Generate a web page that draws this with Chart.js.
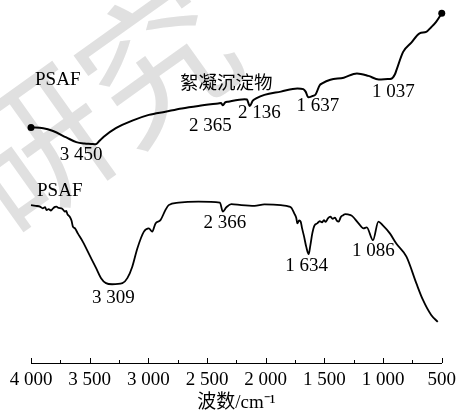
<!DOCTYPE html>
<html>
<head>
<meta charset="utf-8">
<script src="https://cdn.jsdelivr.net/npm/chart.js@4/dist/chart.umd.min.js"></script>
<style>
  html, body { margin: 0; padding: 0; background: #fff; }
  canvas { display: block; }
</style>
</head>
<body>
<canvas id="ir" width="462" height="414"></canvas>
<script>
// FTIR spectra: PSAF flocculation sediment (upper trace) and PSAF (lower trace)
// Wavenumbers in cm-1, transmittance in arbitrary offset units.
const flocWave = [4000, 3896, 3812, 3699, 3614, 3544, 3488, 3450, 3418, 3380, 3277, 3137, 2996, 2855, 2715, 2574,
  2405, 2380, 2365, 2345, 2320, 2180, 2160, 2136, 2110, 2082, 2011, 1871, 1730, 1680, 1660, 1637, 1600, 1575,
  1540, 1519, 1449, 1335, 1223, 1125, 1037, 960, 930, 900, 886, 829, 759, 689, 632, 590, 548, 500];
const flocT = [65.8, 65.6, 64.8, 63.0, 61.7, 61.3, 61.2, 61.1, 62.0, 63.2, 65.6, 67.7, 69.3, 70.2, 71.1, 71.8,
  72.5, 72.6, 72.0, 72.8, 73.0, 73.7, 73.6, 71.8, 73.3, 73.9, 74.9, 75.8, 76.7, 76.5, 75.8, 74.2, 74.6, 75.0,
  77.6, 78.1, 79.1, 79.7, 80.9, 80.2, 79.2, 79.3, 79.4, 80.6, 81.8, 86.9, 89.5, 92.1, 92.5, 93.8, 95.3, 97.7];

const psafWave = [4000, 3960, 3924, 3900, 3880, 3867, 3850, 3830, 3812, 3795, 3783, 3765, 3741, 3725, 3713,
  3700, 3690, 3671, 3655, 3643, 3625, 3601, 3559, 3502, 3445, 3403, 3361, 3309, 3221, 3179, 3137, 3094, 3038,
  2996, 2967, 2939, 2897, 2855, 2827, 2742, 2574, 2390, 2366, 2335, 2293, 2208, 2095, 2011, 1871, 1800, 1780,
  1757, 1740, 1730, 1715, 1702, 1690, 1673, 1655, 1634, 1620, 1603, 1585, 1561, 1540, 1520, 1504, 1490, 1470,
  1449, 1430, 1410, 1395, 1378, 1360, 1340, 1322, 1300, 1265, 1209, 1167, 1139, 1086, 1040, 1004, 942, 886,
  801, 717, 660, 590, 534];
const psafT = [44.1, 43.9, 43.7, 43.2, 43.5, 42.7, 43.0, 42.6, 43.2, 43.6, 43.7, 43.3, 43.2, 42.8, 42.3,
  42.5, 41.6, 40.9, 39.8, 38.1, 37.6, 36.2, 33.9, 30.2, 26.5, 23.7, 22.3, 22.0, 22.3, 23.7, 26.9, 32.0, 36.7,
  37.6, 36.7, 39.0, 39.9, 42.7, 44.1, 44.8, 45.1, 44.8, 42.3, 43.5, 44.4, 44.1, 43.9, 44.3, 44.1, 43.7, 43.3,
  41.8, 40.6, 39.0, 39.8, 39.5, 37.6, 35.3, 32.5, 30.4, 32.8, 36.2, 38.4, 39.0, 39.6, 39.3, 39.9, 39.4, 40.4,
  40.9, 40.3, 40.6, 39.8, 39.5, 40.8, 41.3, 41.6, 41.5, 41.1, 39.0, 37.6, 37.9, 34.3, 39.5, 38.5, 36.2, 33.3,
  29.7, 22.3, 17.6, 13.4, 11.5];

const xTicks = [4000, 3500, 3000, 2500, 2000, 1500, 1000, 500];

// Peak annotations: text, and where the text sits (wavenumber, transmittance)
const peakText = ['3 450', '2 365', '2 136', '1 637', '1 037', '3 309', '2 366', '1 634', '1 086'];
const peakTextWave = [3572, 2472, 2053, 1555, 913, 3299, 2348, 1651, 1082];
const peakTextT = [58.1, 66.2, 69.9, 71.8, 75.8, 18.2, 39.2, 27.1, 31.4];

// Trace names
const traceText = ['PSAF', '絮凝沉淀物', 'PSAF'];
const traceTextWave = [3772, 2337, 3755];
const traceTextT = [79.1, 78.6, 48.1];

const pts = (xs, ys) => xs.map((x, i) => ({ x: x, y: ys[i] }));
const fmt = v => v >= 1000 ? Math.floor(v / 1000) + ' ' + String(v % 1000).padStart(3, '0') : String(v);

const SERIF = "'Liberation Serif', 'Times New Roman', 'Noto Sans CJK SC', serif";

// faint background watermark
const watermark = {
  id: 'watermark',
  beforeDraw(chart) {
    const ctx = chart.ctx;
    ctx.save();
    ctx.fillStyle = '#e0e0e0';
    ctx.font = "150px 'Noto Sans CJK SC'";
    ctx.textAlign = 'center';
    ctx.textBaseline = 'middle';
    ctx.translate(95, 105);
    ctx.rotate(-0.62);
    ctx.fillText('研究', 0, 0);
    ctx.restore();
  }
};

// small inward-pointing major/minor tick marks on the wavenumber axis
const axisTicks = {
  id: 'axisTicks',
  afterDraw(chart) {
    const sx = chart.scales.x;
    const bottom = chart.chartArea.bottom;
    const ctx = chart.ctx;
    ctx.save();
    ctx.strokeStyle = '#000';
    ctx.lineWidth = 1;
    for (let w = 500; w <= 4000; w += 250) {
      const px = Math.round(sx.getPixelForValue(w)) + 0.5;
      const len = w % 500 === 0 ? 5 : 3;
      ctx.beginPath();
      ctx.moveTo(px, bottom);
      ctx.lineTo(px, bottom - len);
      ctx.stroke();
    }
    ctx.restore();
  }
};

const labels = {
  id: 'labels',
  afterDatasetsDraw(chart) {
    const sx = chart.scales.x, sy = chart.scales.y, ctx = chart.ctx;
    ctx.save();
    ctx.fillStyle = '#000';
    ctx.textAlign = 'center';
    ctx.textBaseline = 'middle';
    ctx.font = '19px ' + SERIF;
    peakText.forEach((t, i) => {
      ctx.fillText(t, sx.getPixelForValue(peakTextWave[i]), sy.getPixelForValue(peakTextT[i]));
    });
    traceText.forEach((t, i) => {
      ctx.font = (/[\u4e00-\u9fff]/.test(t) ? "18.5px 'Noto Sans CJK SC'" : '19px ' + SERIF);
      ctx.fillText(t, sx.getPixelForValue(traceTextWave[i]), sy.getPixelForValue(traceTextT[i]));
    });
    ctx.restore();
  }
};

const flocData = pts(flocWave, flocT);

new Chart(document.getElementById('ir'), {
  type: 'line',
  data: {
    datasets: [
      {
        label: 'PSAF 絮凝沉淀物',
        data: flocData,
        borderColor: '#000',
        borderWidth: 2,
        clip: false,
        cubicInterpolationMode: 'monotone',
        pointRadius: c => (c.dataIndex === 0 || c.dataIndex === flocData.length - 1) ? 3.5 : 0,
        pointBackgroundColor: '#000',
        pointBorderColor: '#000',
        pointBorderWidth: 0
      },
      {
        label: 'PSAF',
        data: pts(psafWave, psafT),
        borderColor: '#000',
        borderWidth: 1.8,
        clip: false,
        cubicInterpolationMode: 'monotone',
        pointRadius: 0
      }
    ]
  },
  options: {
    responsive: false,
    animation: false,
    devicePixelRatio: 1,
    layout: { padding: { left: 31, right: 16, top: 5, bottom: 0 } },
    plugins: { legend: { display: false }, tooltip: { enabled: false } },
    scales: {
      x: {
        type: 'linear',
        reverse: true,
        min: 500,
        max: 4000,
        afterBuildTicks: s => { s.ticks = xTicks.map(v => ({ value: v })); },
        afterFit: s => { s.height = 51; },
        ticks: {
          color: '#000',
          font: { family: SERIF, size: 19 },
          padding: 6,
          maxRotation: 0,
          autoSkip: false,
          callback: v => fmt(v)
        },
        grid: { display: false, drawTicks: false },
        border: { display: true, color: '#000', width: 1 },
        title: {
          display: true,
          text: '波数/cm⁻¹',
          color: '#000',
          font: { family: SERIF, size: 19 },
          padding: { top: 0, bottom: 0 }
        }
      },
      y: { display: false, min: 0, max: 100 }
    }
  },
  plugins: [watermark, axisTicks, labels]
});
</script>
</body>
</html>
